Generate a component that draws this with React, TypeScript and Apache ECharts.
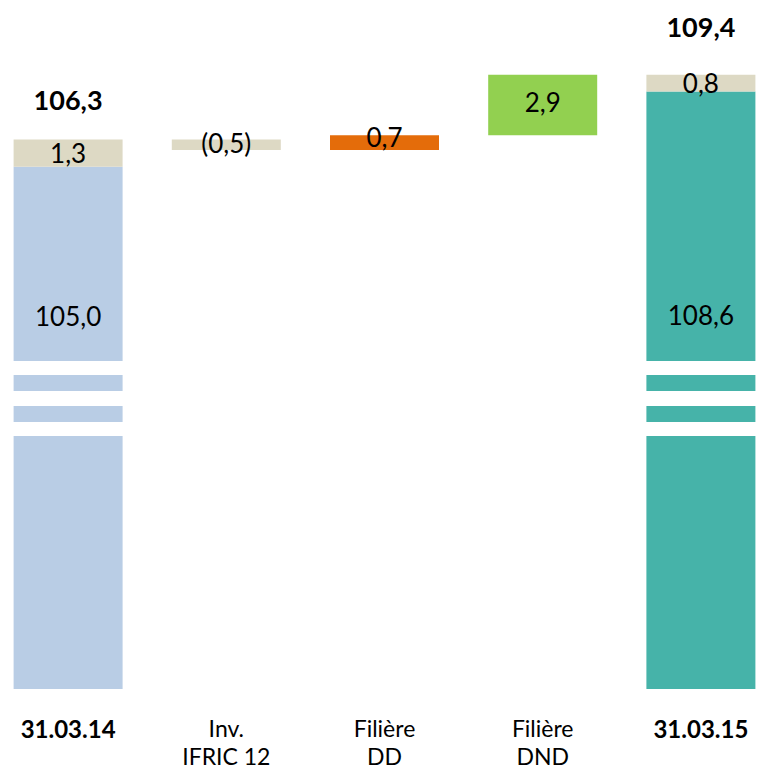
import React, { useEffect, useRef } from 'react';
import * as echarts from 'echarts';

// ---- data ----
const categories = ['31.03.14', 'Inv.\nIFRIC 12', 'Filière\nDD', 'Filière\nDND', '31.03.15'];
const isTotal = [true, false, false, false, true];
const coreValues = [105.0, null, null, null, 108.6];
const otherValues = [1.3, null, null, null, 0.8];
const totalValues = [106.3, null, null, null, 109.4];
const changeValues = [null, -0.5, 0.7, 2.9, null];

// ---- styles ----
const Y_MIN = 80;
const Y_MAX = 112.5;
const BAR_W = 109;
const FONT = 'Lato, "Noto Sans", sans-serif';
const CORE_COLORS = ['#B9CDE5', null, null, null, '#46B3A9'];
const OTHER_COLOR = '#DDD9C4';
const CHANGE_COLORS = [null, '#DDD9C4', '#E46C0A', '#92D050', null];
const CORE_LABEL_DIST = [136, 0, 0, 0, 211];
const TOTAL_LABEL_DIST = [24, 0, 0, 0, 32];
const CHANGE_LABEL_OFFSET = [0, -2, -6, -3, 0];
// white break stripes, px offsets measured up from the bar bottom
const BREAKS = [
  [253, 267],
  [283, 298],
  [314, 328],
];

const fmt = (v: number) => Math.abs(v).toFixed(1).replace('.', ',');
const fmtSigned = (v: number) => (v < 0 ? `(${fmt(v)})` : fmt(v));

function buildOption() {
  let running = 0;
  const baseData: any[] = [];
  const changeData: any[] = [];
  categories.forEach((_, i) => {
    if (isTotal[i]) {
      running = totalValues[i] as number;
      baseData.push('-');
      changeData.push('-');
    } else {
      const c = changeValues[i] as number;
      const lo = c < 0 ? running + c : running;
      baseData.push(+lo.toFixed(3));
      changeData.push({
        value: +Math.abs(c).toFixed(3),
        itemStyle: { color: CHANGE_COLORS[i] },
        label: { offset: [0, CHANGE_LABEL_OFFSET[i]] },
      });
      running += c;
    }
  });

  const coreData = coreValues.map((v, i) =>
    v == null
      ? '-'
      : { value: v, itemStyle: { color: CORE_COLORS[i] }, label: { distance: CORE_LABEL_DIST[i] } }
  );
  const otherData = otherValues.map((v) => (v == null ? '-' : v));
  const totalData = totalValues
    .map((v, i) => (v == null ? null : { value: [i, v], label: { distance: TOTAL_LABEL_DIST[i] } }))
    .filter((d) => d != null);
  const breakData = categories.map((_, i) => i).filter((i) => isTotal[i]).map((i) => [i, Y_MIN]);

  const valueLabel = {
    show: true,
    color: '#000',
    fontFamily: FONT,
    fontSize: 26,
  };

  return {
    animation: false,
    backgroundColor: '#ffffff',
    textStyle: { fontFamily: FONT },
    grid: { left: -11, right: -23, top: 10, bottom: 82, outerBoundsMode: 'none', containLabel: false },
    xAxis: {
      type: 'category',
      data: categories,
      axisLine: { show: false },
      axisTick: { show: false },
      splitLine: { show: false },
      axisLabel: {
        interval: 0,
        margin: 25,
        color: '#000',
        fontFamily: FONT,
        fontSize: 23,
        lineHeight: 28,
        formatter: (v: string, i: number) => (isTotal[i] ? `{b|${v}}` : v),
        rich: {
          b: { fontWeight: 'bold', fontSize: 24, lineHeight: 28, fontFamily: FONT, color: '#000' },
        },
      },
    },
    yAxis: {
      type: 'value',
      show: false,
      min: Y_MIN,
      max: Y_MAX,
      splitLine: { show: false },
    },
    series: [
      {
        name: 'base',
        type: 'bar',
        stack: 'w',
        barWidth: BAR_W,
        silent: true,
        itemStyle: { color: 'transparent', borderColor: 'transparent' },
        emphasis: { disabled: true },
        data: baseData,
      },
      {
        name: 'core',
        type: 'bar',
        stack: 'w',
        barWidth: BAR_W,
        data: coreData,
        label: { ...valueLabel, position: 'insideTop', formatter: (p: any) => fmt(p.value) },
      },
      {
        name: 'other',
        type: 'bar',
        stack: 'w',
        barWidth: BAR_W,
        itemStyle: { color: OTHER_COLOR },
        data: otherData,
        label: { ...valueLabel, position: 'inside', formatter: (p: any) => fmt(p.value) },
      },
      {
        name: 'change',
        type: 'bar',
        stack: 'w',
        barWidth: BAR_W,
        data: changeData,
        label: {
          ...valueLabel,
          position: 'inside',
          formatter: (p: any) => fmtSigned(changeValues[p.dataIndex] as number),
        },
      },
      {
        name: 'total',
        type: 'scatter',
        symbolSize: 1,
        itemStyle: { color: 'transparent', opacity: 1 },
        silent: true,
        data: totalData,
        label: {
          show: true,
          position: 'top',
          color: '#000',
          opacity: 1,
          fontFamily: FONT,
          fontSize: 27,
          fontWeight: 'bold',
          lineHeight: 32,
          formatter: (p: any) => fmt(p.value[1]),
        },
      },
      {
        name: 'breaks',
        type: 'custom',
        z: 10,
        silent: true,
        encode: { x: 0, y: 1 },
        data: breakData,
        renderItem: (_params: any, api: any) => {
          const p = api.coord([api.value(0), api.value(1)]);
          return {
            type: 'group',
            children: BREAKS.map(([lo, hi]) => ({
              type: 'rect',
              shape: { x: p[0] - BAR_W / 2 - 2, y: p[1] - hi, width: BAR_W + 4, height: hi - lo },
              style: { fill: '#ffffff' },
            })),
          };
        },
      },
    ],
  };
}

export default function App() {
  const ref = useRef<HTMLDivElement>(null);
  useEffect(() => {
    document.body.style.margin = '0';
    if (!ref.current) return;
    const chart = echarts.init(ref.current, null, { renderer: 'svg' });
    chart.setOption(buildOption() as any);
    return () => chart.dispose();
  }, []);
  return <div ref={ref} style={{ width: 757, height: 771 }} />;
}
